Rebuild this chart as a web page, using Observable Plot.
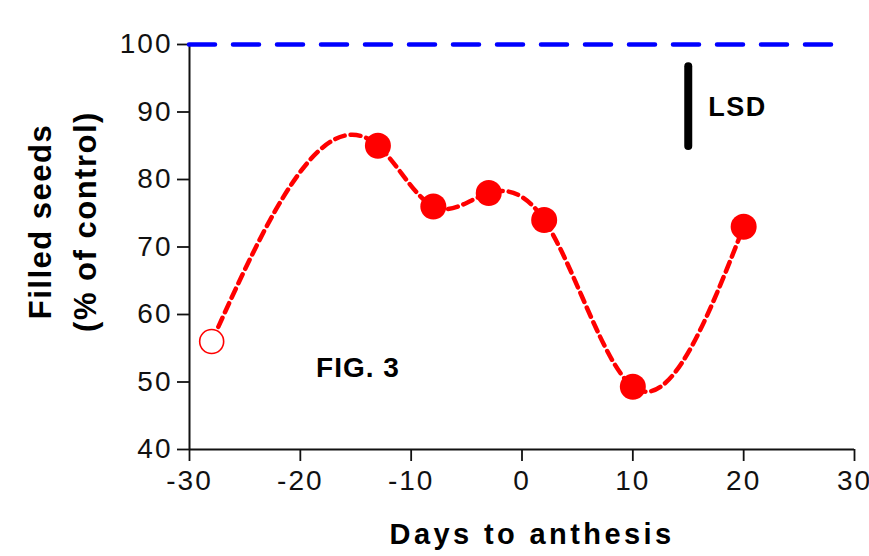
<!DOCTYPE html>
<html>
<head>
<meta charset="utf-8">
<script src="https://cdn.jsdelivr.net/npm/d3@7"></script>
<script src="https://cdn.jsdelivr.net/npm/@observablehq/plot@0.6"></script>
<style>
  html, body { margin: 0; padding: 0; background: #fff; overflow: hidden; }
  svg text { font-family: "Liberation Sans", Arial, sans-serif; letter-spacing: 2px; }
</style>
</head>
<body>
<div id="chart"></div>
<script>
// Data
const days = [-28, -13, -8, -3, 2, 10, 20];
const filledSeeds = [56, 85, 76, 78, 74, 49.3, 73];
const openMarker = [true, false, false, false, false, false, false];
const xTicks = [-30, -20, -10, 0, 10, 20, 30];
const yTicks = [40, 50, 60, 70, 80, 90, 100];
const controlLevel = 100;
const controlStart = -30;
const controlEnd = 28;
const lsdDay = 15;
const lsdLow = 84.9;
const lsdHigh = 96.7;
const lsdLabel = "LSD";
const lsdLabelPos = [16.8, 90.7];
const figLabel = "FIG. 3";
const figLabelPos = [-14.8, 52];
const xTitle = "Days to anthesis";
const yTitle1 = "Filled seeds";
const yTitle2 = "(% of control)";

const pts = days.map((d, i) => ({day: d, value: filledSeeds[i], open: openMarker[i]}));

// Curve factory: natural cubic spline of y as a function of x (like the original graphing software)
function curveNaturalX(context) {
  let xs, ys;
  return {
    areaStart() {}, areaEnd() {},
    lineStart() { xs = []; ys = []; },
    point(x, y) { xs.push(+x); ys.push(+y); },
    lineEnd() {
      const n = xs.length;
      if (!n) return;
      context.moveTo(xs[0], ys[0]);
      if (n === 1) return;
      if (n === 2) { context.lineTo(xs[1], ys[1]); return; }
      const h = [];
      for (let i = 0; i < n - 1; i++) h.push(xs[i + 1] - xs[i]);
      // solve for second derivatives M (natural: M0 = Mn-1 = 0)
      const a = new Array(n).fill(0), b = new Array(n).fill(1), c = new Array(n).fill(0), r = new Array(n).fill(0);
      for (let i = 1; i < n - 1; i++) {
        a[i] = h[i - 1];
        b[i] = 2 * (h[i - 1] + h[i]);
        c[i] = h[i];
        r[i] = 6 * ((ys[i + 1] - ys[i]) / h[i] - (ys[i] - ys[i - 1]) / h[i - 1]);
      }
      for (let i = 1; i < n; i++) {
        const w = a[i] / b[i - 1];
        b[i] -= w * c[i - 1];
        r[i] -= w * r[i - 1];
      }
      const M = new Array(n).fill(0);
      M[n - 1] = r[n - 1] / b[n - 1];
      for (let i = n - 2; i >= 0; i--) M[i] = (r[i] - c[i] * M[i + 1]) / b[i];
      M[0] = 0; M[n - 1] = 0;
      for (let i = 0; i < n - 1; i++) {
        const hi = h[i];
        const s = (ys[i + 1] - ys[i]) / hi;
        const m0 = s - hi * (2 * M[i] + M[i + 1]) / 6;
        const m1 = s + hi * (M[i] + 2 * M[i + 1]) / 6;
        context.bezierCurveTo(
          xs[i] + hi / 3, ys[i] + m0 * hi / 3,
          xs[i + 1] - hi / 3, ys[i + 1] - m1 * hi / 3,
          xs[i + 1], ys[i + 1]
        );
      }
    }
  };
}

const fmt = d => String(d);

const plot = Plot.plot({
  width: 869,
  height: 556,
  marginLeft: 189,
  marginRight: 15,
  marginTop: 44,
  marginBottom: 107,
  x: {domain: [-30, 30]},
  y: {domain: [40, 100]},
  marks: [
    Plot.axisX({ticks: xTicks, tickFormat: fmt, tickSize: 12, tickPadding: 9, fontSize: 28, label: null, strokeWidth: 1.8, stroke: "#111", fill: "#111"}),
    Plot.axisY({ticks: yTicks, tickFormat: fmt, tickSize: 12, tickPadding: 5, fontSize: 28, label: null, strokeWidth: 1.8, stroke: "#111", fill: "#111"}),
    Plot.ruleX([-30], {y1: 40, y2: 100, stroke: "#111", strokeWidth: 2}),
    Plot.ruleY([40], {x1: -30, x2: 30, stroke: "#111", strokeWidth: 2}),
    Plot.ruleY([controlLevel], {x1: controlStart, x2: controlEnd, stroke: "#0000ff", strokeWidth: 4.5, strokeDasharray: "26,18", strokeLinecap: "round"}),
    Plot.ruleX([lsdDay], {y1: lsdLow, y2: lsdHigh, stroke: "#000", strokeWidth: 8, strokeLinecap: "round"}),
    Plot.line(pts, {x: "day", y: "value", curve: curveNaturalX, stroke: "#ff0000", strokeWidth: 4.5, strokeDasharray: "10,6"}),
    Plot.dot(pts.filter(d => !d.open), {x: "day", y: "value", r: 13, fill: "#ff0000", stroke: "none"}),
    Plot.dot(pts.filter(d => d.open), {x: "day", y: "value", r: 12, fill: "#fff", stroke: "#ff0000", strokeWidth: 1.6}),
    Plot.text([lsdLabel], {x: lsdLabelPos[0], y: lsdLabelPos[1], text: d => d, textAnchor: "start", fontSize: 27, fontWeight: "bold", fill: "#000"}),
    Plot.text([figLabel], {x: figLabelPos[0], y: figLabelPos[1], text: d => d, fontSize: 28, fontWeight: "bold", fill: "#000"}),
    Plot.text([xTitle], {frameAnchor: "bottom", textAnchor: "middle", lineAnchor: "middle", dx: 10, dy: 85, text: d => d, fontSize: 29, fontWeight: "bold", fill: "#000"}),
    Plot.text([yTitle1], {frameAnchor: "left", textAnchor: "middle", lineAnchor: "middle", dx: -148, dy: -25.5, rotate: -90, text: d => d, fontSize: 31, fontWeight: "bold", fill: "#000"}),
    Plot.text([yTitle2], {frameAnchor: "left", textAnchor: "middle", lineAnchor: "middle", dx: -103, dy: -25.5, rotate: -90, text: d => d, fontSize: 31, fontWeight: "bold", fill: "#000"})
  ]
});

document.getElementById("chart").appendChild(plot);

d3.select(plot).selectAll("text").each(function() {
  const t = this.textContent;
  if (t === xTitle) this.style.letterSpacing = "3.4px";
  if (t === figLabel) this.style.letterSpacing = "1px";
  if (t === yTitle1 || t === yTitle2) this.style.letterSpacing = "1.5px";
  if (t === lsdLabel) this.style.letterSpacing = "1.5px";
});
</script>
</body>
</html>
